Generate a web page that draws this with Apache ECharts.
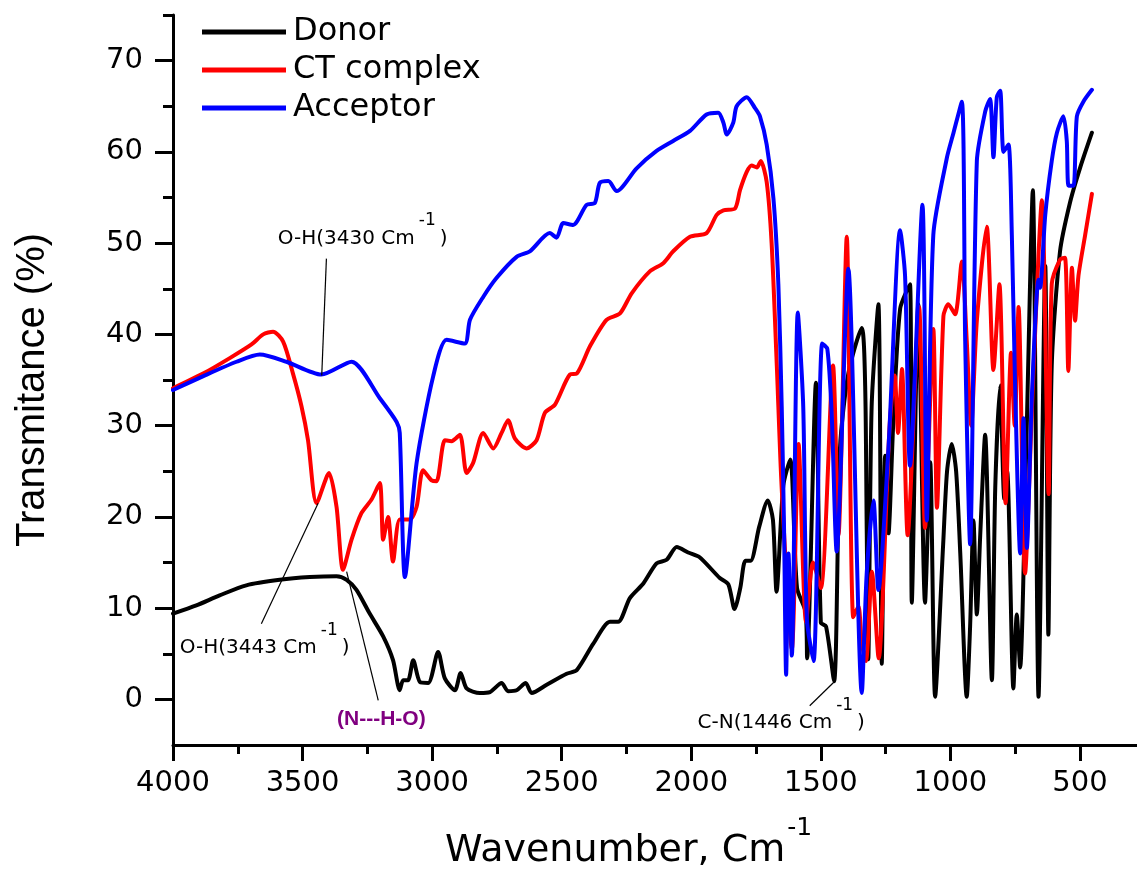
<!DOCTYPE html>
<html>
<head>
<meta charset="utf-8">
<script src="https://cdn.jsdelivr.net/npm/echarts@6/dist/echarts.min.js"></script>
<style>
  html, body { margin: 0; padding: 0; background: #ffffff; }
  #chart { width: 1137px; height: 870px; }
</style>
</head>
<body>
<div id="chart"></div>
<script>
// FTIR spectra: wavenumber (cm-1) vs transmittance (%)
const seriesNames = ['Donor', 'CT complex', 'Acceptor'];
const seriesColors = ['#000000', '#ff0000', '#0000ff'];

const donor = [
  [4000, 9.4], [3910, 10.3], [3820, 11.4], [3717, 12.5], [3588, 13.1], [3472, 13.4],
  [3369, 13.5], [3330, 13.1], [3292, 12.0], [3241, 9.4], [3189, 6.9], [3151, 4.3],
  [3125, 1.0], [3112, 2.1], [3093, 2.1], [3073, 4.3], [3047, 1.9], [3015, 1.8],
  [2977, 5.2], [2951, 2.3], [2912, 1.0], [2890, 2.9], [2867, 1.2], [2816, 0.7],
  [2777, 0.8], [2732, 1.8], [2707, 0.9], [2674, 1.0], [2639, 1.8], [2616, 0.7],
  [2558, 1.6], [2481, 2.8], [2442, 3.2], [2378, 6.1], [2314, 8.5], [2282, 8.5],
  [2237, 11.1], [2185, 12.7], [2134, 14.9], [2095, 15.3], [2056, 16.7], [2012, 16.1],
  [1969, 15.6], [1890, 13.3], [1857, 12.6], [1833, 9.9], [1811, 12.2], [1791, 15.2],
  [1771, 15.2], [1738, 18.9], [1705, 21.8], [1685, 19.7], [1671, 11.8], [1645, 23.4],
  [1618, 26.3], [1592, 12.2], [1559, 9.6], [1553, 4.5], [1519, 34.7], [1500, 8.4],
  [1480, 8.0], [1449, 2.0], [1426, 27.6], [1394, 35.7], [1342, 40.7], [1329, 34.4],
  [1323, 18.7], [1317, 4.4], [1304, 32.1], [1278, 43.3], [1265, 3.9], [1252, 26.7],
  [1239, 18.2], [1221, 30.0], [1194, 42.8], [1156, 45.5], [1149, 10.6], [1124, 43.3],
  [1098, 10.6], [1078, 26.0], [1059, 0.3], [1028, 17.0], [1013, 25.0], [995, 28.0],
  [978, 25.0], [962, 16.0], [937, 0.3], [924, 8.0], [911, 19.6], [898, 9.3],
  [885, 18.0], [866, 29.0], [840, 2.1], [827, 23.2], [808, 34.4], [792, 22.0],
  [781, 25.0], [757, 1.2], [744, 9.3], [731, 3.5], [707, 28.0], [682, 55.8],
  [660, 0.3], [634, 47.5], [622, 7.1], [609, 36.6], [577, 49.1], [538, 54.5],
  [499, 58.3], [454, 62.1]
];

const ctComplex = [
  [4000, 34.1], [3884, 35.7], [3781, 37.4], [3697, 38.9], [3652, 40.0], [3614, 40.3],
  [3575, 39.2], [3537, 35.7], [3504, 32.1], [3479, 28.4], [3446, 21.5], [3398, 24.8],
  [3369, 21.1], [3344, 14.2], [3311, 17.5], [3273, 20.4], [3234, 21.9], [3202, 23.7],
  [3189, 17.5], [3170, 20.0], [3151, 15.1], [3125, 19.7], [3086, 19.7], [3060, 21.1],
  [3035, 25.1], [3002, 24.0], [2983, 23.9], [2951, 28.4], [2925, 28.3], [2893, 29.0],
  [2867, 24.8], [2842, 25.9], [2803, 29.2], [2764, 27.5], [2732, 29.2], [2707, 30.6],
  [2681, 28.6], [2636, 27.5], [2597, 28.4], [2565, 31.4], [2526, 32.3], [2468, 35.6],
  [2442, 35.7], [2391, 38.7], [2327, 41.6], [2275, 42.3], [2230, 44.5], [2160, 46.9],
  [2108, 47.8], [2070, 49.1], [2005, 50.7], [1941, 51.1], [1902, 53.1], [1876, 53.6],
  [1831, 53.8], [1812, 55.8], [1786, 57.8], [1767, 58.5], [1747, 58.3], [1732, 59.0],
  [1709, 56.7], [1690, 50.0], [1670, 36.6], [1651, 23.1], [1612, 5.5], [1586, 28.0],
  [1557, 8.5], [1530, 15.0], [1500, 12.2], [1453, 36.6], [1432, 18.0], [1400, 50.7],
  [1375, 9.0], [1355, 10.2], [1342, 6.1], [1326, 4.2], [1303, 14.0], [1277, 4.5],
  [1235, 29.8], [1215, 35.5], [1202, 29.2], [1187, 36.2], [1165, 18.0], [1121, 43.0],
  [1098, 18.8], [1066, 40.6], [1052, 21.0], [1027, 42.0], [1008, 43.3], [982, 42.2],
  [956, 48.0], [937, 39.3], [920, 30.0], [898, 41.5], [860, 51.8], [834, 36.1],
  [811, 45.5], [787, 21.5], [766, 38.0], [752, 30.0], [737, 43.0], [712, 13.8],
  [681, 35.0], [647, 54.7], [621, 22.5], [609, 45.5], [577, 48.2], [558, 48.4],
  [545, 36.0], [531, 47.3], [519, 41.5], [506, 46.4], [480, 50.9], [454, 55.4]
];

const acceptor = [
  [4000, 33.9], [3885, 35.4], [3755, 37.0], [3665, 37.8], [3562, 37.0], [3427, 35.6],
  [3311, 37.0], [3202, 33.0], [3137, 30.4], [3125, 29.2], [3105, 13.4], [3060, 25.9],
  [2996, 35.4], [2944, 39.4], [2874, 39.0], [2854, 41.6], [2803, 44.1], [2751, 46.2],
  [2674, 48.5], [2623, 49.1], [2546, 51.1], [2520, 50.6], [2494, 52.2], [2456, 52.0],
  [2404, 54.2], [2372, 54.4], [2353, 56.6], [2320, 56.8], [2288, 55.7], [2211, 58.2],
  [2134, 60.1], [2070, 61.2], [2005, 62.3], [1941, 64.1], [1896, 64.3], [1876, 63.2],
  [1863, 61.9], [1838, 63.2], [1825, 65.0], [1786, 66.0], [1754, 64.8], [1735, 63.9],
  [1709, 60.8], [1683, 54.9], [1664, 45.5], [1651, 32.1], [1642, 18.7], [1634, 2.7],
  [1625, 16.0], [1612, 4.8], [1589, 42.4], [1568, 32.1], [1554, 8.8], [1528, 4.2],
  [1495, 39.0], [1475, 38.4], [1458, 31.2], [1439, 16.2], [1394, 47.2], [1342, 0.7],
  [1323, 13.8], [1297, 21.8], [1278, 12.0], [1239, 27.6], [1194, 51.4], [1175, 46.4],
  [1156, 25.6], [1108, 54.2], [1091, 19.6], [1066, 50.9], [1014, 59.3], [988, 62.1],
  [956, 65.5], [943, 39.3], [924, 17.0], [898, 59.0], [866, 64.4], [847, 65.8],
  [834, 59.4], [821, 66.0], [808, 66.7], [795, 60.0], [776, 60.8], [763, 50.9],
  [750, 33.9], [731, 16.0], [718, 30.8], [705, 16.6], [686, 33.0], [660, 46.0],
  [654, 45.1], [634, 53.1], [609, 59.0], [589, 62.1], [564, 63.9], [551, 61.2],
  [544, 56.3], [525, 56.3], [512, 63.9], [487, 65.5], [454, 66.8]
];

const xMajorTicks = [4000, 3500, 3000, 2500, 2000, 1500, 1000, 500];
const xMinorTicks = [3750, 3250, 2750, 2250, 1750, 1250, 750];
const yMajorTicks = [0, 10, 20, 30, 40, 50, 60, 70];
const yMinorTicks = [5, 15, 25, 35, 45, 55, 65, 75];

// band assignments: label anchor (left edge, text middle) and leader line, in axis units
const annotations = [
  { text: 'O-H(3430 Cm', sup: '-1', anchor: [3596, 50.5], from: [3408, 48.3], to: [3426, 35.5] },
  { text: 'O-H(3443 Cm', sup: '-1', anchor: [3974, 5.6], from: [3659, 8.3], to: [3440, 21.5] },
  { text: '(N---H-O)', sup: null, anchor: [3367, -2.2], from: [3208, -0.1], to: [3330, 14.0], bold: true, color: '#800080' },
  { text: 'C-N(1446 Cm', sup: '-1', anchor: [1976, -2.6], from: [1543, -0.7], to: [1449, 1.9] }
];

const FONT = '"DejaVu Sans", "Liberation Sans", Arial, sans-serif';
const AXIS_FONT = '"Liberation Sans", Arial, sans-serif';

const chart = echarts.init(document.getElementById('chart'), null, { renderer: 'canvas' });

const datasets = [donor, ctComplex, acceptor];
const plainNumber = v => String(v);

const option = {
  animation: false,
  backgroundColor: '#ffffff',
  grid: { left: 173, right: 0, top: 15, bottom: 125, containLabel: false },
  legend: {
    orient: 'vertical',
    left: 202,
    top: 16,
    padding: 0,
    itemWidth: 84,
    itemHeight: 5,
    itemGap: 6,
    icon: 'rect',
    data: seriesNames,
    textStyle: { fontFamily: FONT, fontSize: 32, color: '#000', lineHeight: 32, padding: [0, 0, 0, 2] }
  },
  xAxis: [
    {
      type: 'value', inverse: true, min: 280, max: 4000, position: 'bottom',
      axisLine: { show: true, onZero: false, lineStyle: { color: '#000', width: 3 } },
      axisTick: { show: true, customValues: xMajorTicks, length: 16, lineStyle: { color: '#000', width: 3 } },
      axisLabel: { customValues: xMajorTicks, formatter: plainNumber, fontFamily: FONT, fontSize: 29, color: '#000', margin: 24 },
      splitLine: { show: false }
    },
    {
      type: 'value', inverse: true, min: 280, max: 4000, position: 'bottom',
      axisLine: { show: false, onZero: false },
      axisTick: { show: true, customValues: xMinorTicks, length: 9, lineStyle: { color: '#000', width: 3 } },
      axisLabel: { show: false },
      splitLine: { show: false }
    }
  ],
  yAxis: [
    {
      type: 'value', min: -5, max: 75, position: 'left',
      axisLine: { show: true, onZero: false, lineStyle: { color: '#000', width: 3 } },
      axisTick: { show: true, customValues: yMajorTicks, length: 18, lineStyle: { color: '#000', width: 3 } },
      axisLabel: { customValues: yMajorTicks, formatter: plainNumber, fontFamily: FONT, fontSize: 29, color: '#000', margin: 30 },
      splitLine: { show: false }
    },
    {
      type: 'value', min: -5, max: 75, position: 'left',
      axisLine: { show: false, onZero: false },
      axisTick: { show: true, customValues: yMinorTicks, length: 10, lineStyle: { color: '#000', width: 3 } },
      axisLabel: { show: false },
      splitLine: { show: false }
    }
  ],
  series: datasets.map((d, i) => ({
    name: seriesNames[i],
    type: 'line',
    data: d,
    xAxisIndex: 0,
    yAxisIndex: 0,
    showSymbol: false,
    smooth: 0.25,
    color: seriesColors[i],
    lineStyle: { color: seriesColors[i], width: 4, join: 'round', cap: 'round' },
    z: 2 + i
  }))
};

chart.setOption(option);

// text measuring for placing superscripts after the main text
const measureCtx = document.createElement('canvas').getContext('2d');
function textWidth(str, font) {
  measureCtx.font = font;
  return measureCtx.measureText(str).width;
}
function toPx(pt) {
  return chart.convertToPixel({ xAxisIndex: 0, yAxisIndex: 0 }, pt);
}

const graphics = [];

annotations.forEach(a => {
  const p0 = toPx(a.from);
  const p1 = toPx(a.to);
  graphics.push({
    type: 'line', z: 20, silent: true,
    shape: { x1: p0[0], y1: p0[1], x2: p1[0], y2: p1[1] },
    style: { stroke: '#000', lineWidth: 1.2 }
  });
  const pa = toPx(a.anchor);
  const mainFont = a.bold ? 'bold 21px "Liberation Sans", Arial, sans-serif' : '20px ' + FONT;
  graphics.push({
    type: 'text', z: 20, silent: true,
    style: { text: a.text, x: pa[0], y: pa[1], font: mainFont, fill: a.color || '#000', align: 'left', verticalAlign: 'middle' }
  });
  if (a.sup) {
    const w = textWidth(a.text, mainFont);
    const supFont = '17px ' + FONT;
    const ws = textWidth(a.sup, supFont);
    graphics.push({
      type: 'text', z: 20, silent: true,
      style: { text: a.sup, x: pa[0] + w + 4, y: pa[1] - 18, font: supFont, fill: '#000', align: 'left', verticalAlign: 'middle' }
    });
    graphics.push({
      type: 'text', z: 20, silent: true,
      style: { text: ')', x: pa[0] + w + 4 + ws + 4, y: pa[1], font: mainFont, fill: '#000', align: 'left', verticalAlign: 'middle' }
    });
  }
});

// axis titles
const xTitle = 'Wavenumber, Cm';
const xTitleFont = '38px ' + FONT;
const xTitleLeft = 445;
const xTitleMid = 851;
graphics.push({
  type: 'text', silent: true,
  style: { text: xTitle, x: xTitleLeft, y: xTitleMid, font: xTitleFont, fill: '#000', align: 'left', verticalAlign: 'middle' }
});
graphics.push({
  type: 'text', silent: true,
  style: { text: '-1', x: xTitleLeft + textWidth(xTitle, xTitleFont) + 2, y: xTitleMid - 23, font: '25px ' + FONT, fill: '#000', align: 'left', verticalAlign: 'middle' }
});
graphics.push({
  type: 'text', silent: true,
  rotation: Math.PI / 2,
  x: 33, y: 390,
  style: { text: 'Transmitance (%)', x: 0, y: 0, font: '40px ' + AXIS_FONT, fill: '#000', align: 'center', verticalAlign: 'middle' }
});

chart.setOption({ graphic: graphics });
</script>
</body>
</html>
